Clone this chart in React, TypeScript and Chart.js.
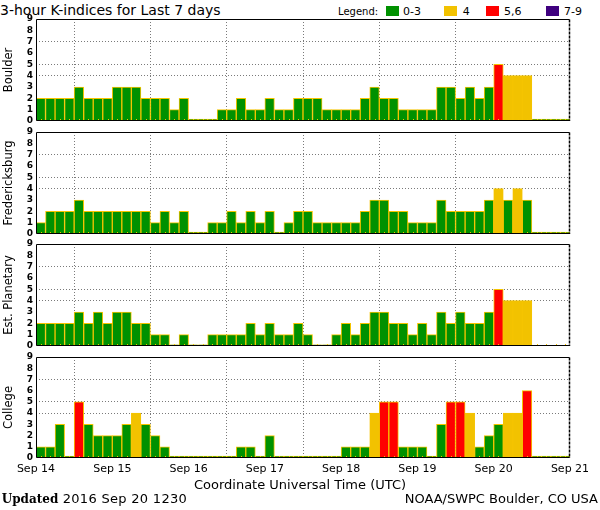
import React, { useEffect, useRef } from "react";
import { Chart, registerables } from "chart.js";

Chart.register(...registerables);

// ---- data ----
const dayLabels = ["Sep 14", "Sep 15", "Sep 16", "Sep 17", "Sep 18", "Sep 19", "Sep 20", "Sep 21"];
const stationNames = ["Boulder", "Fredericksburg", "Est. Planetary", "College"];

const boulder: (number | null)[] = [
  2, 2, 2, 2, 3, 2, 2, 2,
  3, 3, 3, 2, 2, 2, 1, 2,
  0, 0, 0, 1, 1, 2, 1, 1,
  2, 1, 1, 2, 2, 2, 1, 1,
  1, 1, 2, 3, 2, 2, 1, 1,
  1, 1, 3, 3, 2, 3, 2, 3,
  5, 4, 4, 4, 0, 0, 0, 0,
];
const fredericksburg: (number | null)[] = [
  1, 2, 2, 2, 3, 2, 2, 2,
  2, 2, 2, 2, 1, 2, 1, 2,
  0, 0, 1, 1, 2, 1, 2, 1,
  2, 0, 1, 2, 2, 1, 1, 1,
  1, 1, 2, 3, 3, 2, 2, 1,
  1, 1, 3, 2, 2, 2, 2, 3,
  4, 3, 4, 3, 0, 0, 0, 0,
];
const estPlanetary: (number | null)[] = [
  2, 2, 2, 2, 3, 2, 3, 2,
  3, 3, 2, 2, 1, 1, 0, 1,
  0, 0, 1, 1, 1, 1, 2, 1,
  2, 1, 1, 2, 1, 0, 0, 1,
  2, 1, 2, 3, 3, 2, 2, 1,
  2, 1, 3, 2, 3, 2, 2, 3,
  5, 4, 4, 4, null, null, null, null,
];
const college: (number | null)[] = [
  1, 1, 3, 0, 5, 3, 2, 2,
  2, 3, 4, 3, 2, 1, 0, 0,
  0, 0, 0, 0, 0, 1, 1, 0,
  2, 0, 0, 0, 0, 0, 0, 0,
  1, 1, 1, 4, 5, 5, 1, 1,
  1, 0, 3, 5, 5, 4, 1, 2,
  3, 4, 4, 6, 0, 0, 0, 0,
];
const legendLabels = ["0-3", "4", "5,6", "7-9"];

// ---- styles ----
const GREEN = "#009100";
const YELLOW = "#f2c200";
const RED = "#ff0000";
const PURPLE = "#3f007f";
const EDGE = "#f5c400";
const GRID = "#7a7a7a";
const FONT = "'DejaVu Sans', 'Liberation Sans', sans-serif";

function kColor(v: number) {
  if (v >= 7) return PURPLE;
  if (v >= 5) return RED;
  if (v === 4) return YELLOW;
  return GREEN;
}

const framePlugin = {
  id: "frame",
  afterDraw(chart: any) {
    const { ctx, chartArea: a } = chart;
    const l = Math.round(a.left) + 0.5;
    const t = Math.round(a.top) + 0.5;
    const b = Math.round(a.bottom) - 0.5;
    const r = Math.round(a.right) - 0.5;
    ctx.save();
    ctx.strokeStyle = "#000";
    ctx.lineWidth = 1;
    ctx.beginPath();
    ctx.moveTo(l, b);
    ctx.lineTo(l, t);
    ctx.lineTo(r, t);
    ctx.moveTo(l, b);
    ctx.lineTo(r, b);
    ctx.stroke();
    ctx.setLineDash([3, 1]);
    ctx.lineWidth = 1.5;
    ctx.beginPath();
    ctx.moveTo(r, t);
    ctx.lineTo(r, b + 0.5);
    ctx.stroke();
    ctx.restore();
  },
};

const barTickPlugin = {
  id: "barTicks",
  afterDatasetsDraw(chart: any) {
    const { ctx, chartArea: a, scales } = chart;
    const n = chart.data.datasets[0].data.length;
    ctx.save();
    ctx.strokeStyle = EDGE;
    ctx.lineWidth = 1;
    ctx.beginPath();
    for (let i = 0; i < n; i++) {
      const x = Math.round(scales.x.getPixelForValue(i + 0.5)) + 0.5;
      ctx.moveTo(x, a.bottom - 2);
      ctx.lineTo(x, a.bottom);
    }
    ctx.stroke();
    ctx.restore();
  },
};

type PanelProps = {
  name: string;
  values: (number | null)[];
  top: number;
  plotHeight: number;
  zero: number;
  showX: boolean;
};

function Panel({ name, values, top, plotHeight, zero, showX }: PanelProps) {
  const ref = useRef<HTMLCanvasElement>(null);
  const padTop = 10;
  const padBottom = showX ? 4 : 8;
  const xh = showX ? 22 : 0;
  const canvasH = padTop + plotHeight + xh + padBottom;

  useEffect(() => {
    if (!ref.current) return;
    const chart = new Chart(ref.current, {
      type: "bar",
      data: {
        datasets: [
          {
            data: values.map((v, i) => ({ x: i + 0.5, y: v === null ? null : v === 0 ? zero : v })) as any,
            backgroundColor: (c: any) => kColor(values[c.dataIndex] ?? 0),
            borderColor: EDGE,
            borderWidth: 1,
            borderSkipped: "start",
            barPercentage: 1,
            categoryPercentage: 1,
          },
        ],
      },
      options: {
        animation: false,
        responsive: false,
        maintainAspectRatio: false,
        layout: { padding: { top: padTop, bottom: padBottom, left: 0, right: 30 } },
        plugins: { legend: { display: false }, tooltip: { enabled: false } },
        scales: {
          x: {
            type: "linear",
            min: 0,
            max: 56,
            offset: false,
            afterFit: (s: any) => {
              s.height = xh;
            },
            ticks: {
              display: showX,
              stepSize: 8,
              autoSkip: false,
              maxRotation: 0,
              padding: 5,
              color: "#000",
              font: { family: FONT, size: 11 },
              callback: (v: any) => dayLabels[Math.round(Number(v) / 8)] ?? "",
            },
            grid: {
              drawTicks: false,
              lineWidth: 1,
              color: (c: any) =>
                c.tick && (c.tick.value === 0 || c.tick.value === 56) ? "rgba(0,0,0,0)" : GRID,
            },
            border: { display: false, dash: [1, 2] },
          },
          y: {
            min: 0,
            max: 9,
            afterFit: (s: any) => {
              s.width = 36;
            },
            ticks: {
              stepSize: 1,
              autoSkip: false,
              padding: 3,
              color: "#000",
              font: { family: FONT, size: 9, weight: "bold", lineHeight: 1 },
            },
            grid: {
              drawTicks: false,
              lineWidth: 1,
              color: (c: any) => (c.tick && [4, 5, 7].includes(c.tick.value) ? GRID : "rgba(0,0,0,0)"),
            },
            border: { display: false, dash: [1, 2] },
            title: {
              display: true,
              text: name,
              color: "#000",
              font: { family: FONT, size: 11.5 },
              padding: { top: 2, bottom: 0 },
            },
          },
        },
      } as any,
      plugins: [barTickPlugin, framePlugin],
    });
    return () => chart.destroy();
  }, []);

  return (
    <canvas
      ref={ref}
      width={600}
      height={canvasH}
      style={{ position: "absolute", left: 0, top: top - padTop, width: 600, height: canvasH }}
    />
  );
}

const text = (extra: React.CSSProperties): React.CSSProperties => ({
  position: "absolute",
  fontFamily: FONT,
  lineHeight: 1,
  whiteSpace: "nowrap",
  color: "#000",
  ...extra,
});

export default function App() {
  const series = [boulder, fredericksburg, estPlanetary, college];
  const tops = [19, 132, 244, 357];
  const heights = [102, 102, 102, 101];
  const zeros = [0.18, 0.18, 0.1, 0.18];
  const legendColors = [GREEN, YELLOW, RED, PURPLE];
  const legendSq = [385.5, 444.3, 486, 546];
  const legendTx = [403, 462.7, 504, 564];

  return (
    <div style={{ position: "absolute", left: 0, top: 0, width: 600, height: 510, background: "#fff", overflow: "hidden" }}>
      <div style={text({ left: 0, top: 2.5, fontSize: 14 })}>3-hour K-indices for Last 7 days</div>
      <div style={text({ left: 338, top: 6.5, fontSize: 10 })}>Legend:</div>
      {legendLabels.map((l, i) => (
        <React.Fragment key={l}>
          <div style={{ position: "absolute", left: legendSq[i], top: 5.5, width: 13, height: 10, background: legendColors[i] }} />
          <div style={text({ left: legendTx[i], top: 5.7, fontSize: 11 })}>{l}</div>
        </React.Fragment>
      ))}
      {stationNames.map((n, i) => (
        <Panel key={n} name={n} values={series[i]} top={tops[i]} plotHeight={heights[i]} zero={zeros[i]} showX={i === 3} />
      ))}
      <div style={text({ left: 0, width: 600, textAlign: "center", top: 478, fontSize: 13 })}>
        Coordinate Universal Time (UTC)
      </div>
      <div style={text({ left: 1.7, top: 492.3, fontSize: 13, letterSpacing: 0.3 })}>
        <span style={{ fontFamily: "'DejaVu Serif', serif", fontWeight: "bold", fontSize: 12, letterSpacing: 0 }}>Updated</span>{" "}
        2016 Sep 20 1230
      </div>
      <div style={text({ right: 2, top: 492.3, fontSize: 13 })}>NOAA/SWPC Boulder, CO USA</div>
    </div>
  );
}
